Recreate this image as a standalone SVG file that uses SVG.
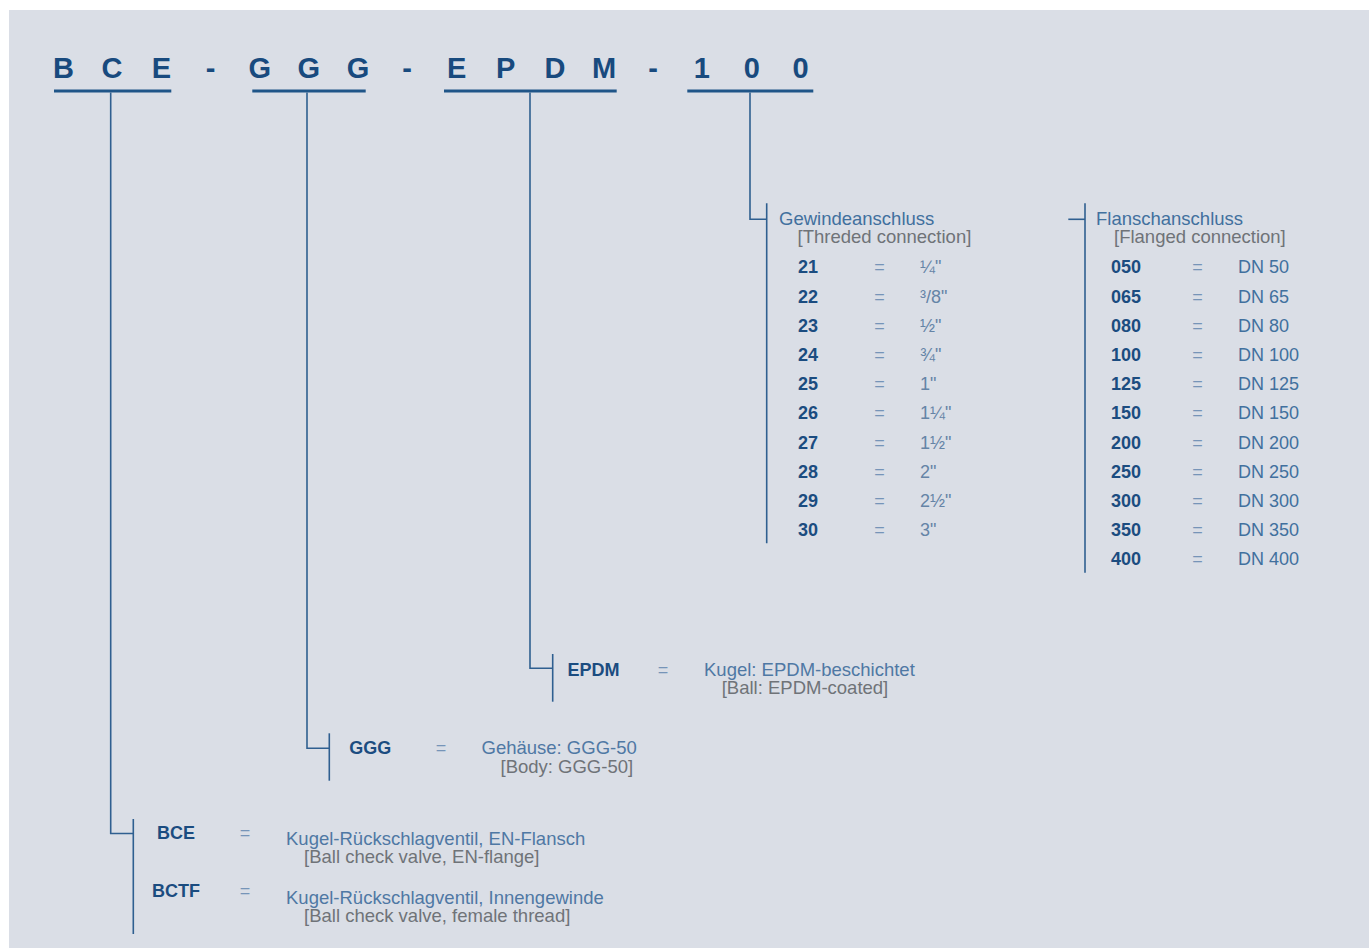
<svg xmlns="http://www.w3.org/2000/svg" width="1369" height="948" viewBox="0 0 1369 948">
<style>
text{font-family:"Liberation Sans",Arial,sans-serif}
.t{font-size:29px;font-weight:bold;fill:#184a7e;text-anchor:middle}
.ul{stroke:#1f5588;stroke-width:3;fill:none}
.ln{stroke:#2f5f90;stroke-width:1.6;fill:none}
.hd{font-size:18.5px;fill:#41709e}
.br{font-size:18.5px;fill:#6f7378}
.cd{font-size:18px;font-weight:bold;fill:#1b4c80}
.eq{font-size:18px;fill:#7694b8;text-anchor:middle}
.tv{font-size:18px;fill:#6584a6}
.dv{font-size:18px;fill:#41709e}
.kv{font-size:18.5px;fill:#4f78a4}
</style>
<rect x="0" y="0" width="1369" height="948" fill="#ffffff"/>
<rect x="9" y="10" width="1360" height="938" fill="#dadee6"/>

<g id="title">
<text class="t" x="63.5" y="78">B</text>
<text class="t" x="112" y="78">C</text>
<text class="t" x="161.5" y="78">E</text>
<text class="t" x="210.5" y="78">-</text>
<text class="t" x="259.7" y="78">G</text>
<text class="t" x="308.7" y="78">G</text>
<text class="t" x="358" y="78">G</text>
<text class="t" x="407" y="78">-</text>
<text class="t" x="456.7" y="78">E</text>
<text class="t" x="505.7" y="78">P</text>
<text class="t" x="555" y="78">D</text>
<text class="t" x="604" y="78">M</text>
<text class="t" x="653" y="78">-</text>
<text class="t" x="701.7" y="78">1</text>
<text class="t" x="751.7" y="78">0</text>
<text class="t" x="800.5" y="78">0</text>
<line class="ul" x1="54" y1="91" x2="171.3" y2="91"/>
<line class="ul" x1="252.3" y1="91" x2="365.7" y2="91"/>
<line class="ul" x1="444" y1="91" x2="616.7" y2="91"/>
<line class="ul" x1="687.3" y1="91" x2="813.3" y2="91"/>
</g>

<g id="connectors">
<polyline class="ln" points="110.7,92.5 110.7,833.5 133.3,833.5"/>
<line class="ln" x1="133.3" y1="819" x2="133.3" y2="934"/>
<polyline class="ln" points="307,92.5 307,748.3 329.3,748.3"/>
<line class="ln" x1="329.3" y1="733.3" x2="329.3" y2="780.7"/>
<polyline class="ln" points="530,92.5 530,668.3 552.7,668.3"/>
<line class="ln" x1="552.7" y1="654" x2="552.7" y2="701.7"/>
<polyline class="ln" points="750,92.5 750,219.3 766.7,219.3"/>
<line class="ln" x1="766.7" y1="203.3" x2="766.7" y2="543.3"/>
<line class="ln" x1="1068.3" y1="219.3" x2="1085" y2="219.3"/>
<line class="ln" x1="1085" y1="203.3" x2="1085" y2="572.7"/>
</g>

<g id="thread">
<text class="hd" x="779" y="225">Gewindeanschluss</text>
<text class="br" x="797.5" y="243">[Threded connection]</text>
<text class="cd" x="798" y="273.3">21</text><text class="eq" x="879.5" y="273.3">=</text><text class="tv" x="920" y="273.3">¼"</text>
<text class="cd" x="798" y="302.5">22</text><text class="eq" x="879.5" y="302.5">=</text><text class="tv" x="920" y="302.5">³/8"</text>
<text class="cd" x="798" y="331.7">23</text><text class="eq" x="879.5" y="331.7">=</text><text class="tv" x="920" y="331.7">½"</text>
<text class="cd" x="798" y="360.9">24</text><text class="eq" x="879.5" y="360.9">=</text><text class="tv" x="920" y="360.9">¾"</text>
<text class="cd" x="798" y="390.1">25</text><text class="eq" x="879.5" y="390.1">=</text><text class="tv" x="920" y="390.1">1"</text>
<text class="cd" x="798" y="419.3">26</text><text class="eq" x="879.5" y="419.3">=</text><text class="tv" x="920" y="419.3">1¼"</text>
<text class="cd" x="798" y="448.5">27</text><text class="eq" x="879.5" y="448.5">=</text><text class="tv" x="920" y="448.5">1½"</text>
<text class="cd" x="798" y="477.7">28</text><text class="eq" x="879.5" y="477.7">=</text><text class="tv" x="920" y="477.7">2"</text>
<text class="cd" x="798" y="506.9">29</text><text class="eq" x="879.5" y="506.9">=</text><text class="tv" x="920" y="506.9">2½"</text>
<text class="cd" x="798" y="536.1">30</text><text class="eq" x="879.5" y="536.1">=</text><text class="tv" x="920" y="536.1">3"</text>
</g>

<g id="flange">
<text class="hd" x="1096" y="225">Flanschanschluss</text>
<text class="br" x="1114" y="243">[Flanged connection]</text>
<text class="cd" x="1111" y="273.3">050</text><text class="eq" x="1197.5" y="273.3">=</text><text class="dv" x="1238" y="273.3">DN 50</text>
<text class="cd" x="1111" y="302.5">065</text><text class="eq" x="1197.5" y="302.5">=</text><text class="dv" x="1238" y="302.5">DN 65</text>
<text class="cd" x="1111" y="331.7">080</text><text class="eq" x="1197.5" y="331.7">=</text><text class="dv" x="1238" y="331.7">DN 80</text>
<text class="cd" x="1111" y="360.9">100</text><text class="eq" x="1197.5" y="360.9">=</text><text class="dv" x="1238" y="360.9">DN 100</text>
<text class="cd" x="1111" y="390.1">125</text><text class="eq" x="1197.5" y="390.1">=</text><text class="dv" x="1238" y="390.1">DN 125</text>
<text class="cd" x="1111" y="419.3">150</text><text class="eq" x="1197.5" y="419.3">=</text><text class="dv" x="1238" y="419.3">DN 150</text>
<text class="cd" x="1111" y="448.5">200</text><text class="eq" x="1197.5" y="448.5">=</text><text class="dv" x="1238" y="448.5">DN 200</text>
<text class="cd" x="1111" y="477.7">250</text><text class="eq" x="1197.5" y="477.7">=</text><text class="dv" x="1238" y="477.7">DN 250</text>
<text class="cd" x="1111" y="506.9">300</text><text class="eq" x="1197.5" y="506.9">=</text><text class="dv" x="1238" y="506.9">DN 300</text>
<text class="cd" x="1111" y="536.1">350</text><text class="eq" x="1197.5" y="536.1">=</text><text class="dv" x="1238" y="536.1">DN 350</text>
<text class="cd" x="1111" y="565.3">400</text><text class="eq" x="1197.5" y="565.3">=</text><text class="dv" x="1238" y="565.3">DN 400</text>
</g>

<g id="epdm">
<text class="cd" x="567.5" y="675.7">EPDM</text>
<text class="eq" x="663" y="675.7">=</text>
<text class="kv" x="704" y="675.7">Kugel: EPDM-beschichtet</text>
<text class="br" x="721.7" y="693.5">[Ball: EPDM-coated]</text>
</g>

<g id="ggg">
<text class="cd" x="349.3" y="754.3">GGG</text>
<text class="eq" x="441" y="754.3">=</text>
<text class="kv" x="481.5" y="754.3">Gehäuse: GGG-50</text>
<text class="br" x="500.5" y="773.3">[Body: GGG-50]</text>
</g>

<g id="bce">
<text class="cd" x="157" y="838.7">BCE</text>
<text class="eq" x="245" y="838.7">=</text>
<text class="kv" x="286" y="845">Kugel-Rückschlagventil, EN-Flansch</text>
<text class="br" x="304" y="863.3">[Ball check valve, EN-flange]</text>
</g>

<g id="bctf">
<text class="cd" x="152" y="897.3">BCTF</text>
<text class="eq" x="245" y="897.3">=</text>
<text class="kv" x="286" y="904">Kugel-Rückschlagventil, Innengewinde</text>
<text class="br" x="304" y="921.7">[Ball check valve, female thread]</text>
</g>
</svg>
